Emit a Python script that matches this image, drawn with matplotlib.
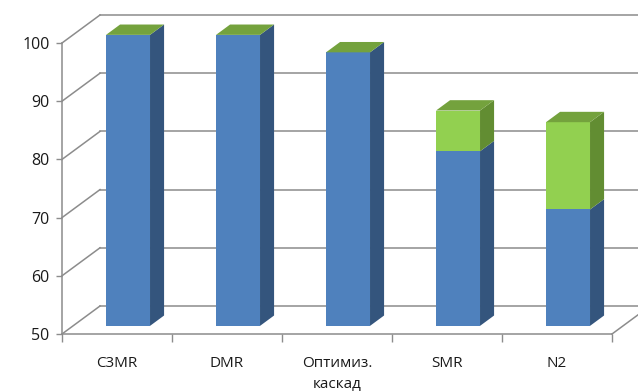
import matplotlib
matplotlib.use("Agg")
import matplotlib.pyplot as plt
from matplotlib.patches import Polygon

categories = ["C3MR", "DMR", "Оптимиз.\nкаскад", "SMR", "N2"]
blue_values = [100, 100, 97, 80, 70]
green_values = [0, 0, 0, 7, 15]
y_ticks = [50, 60, 70, 80, 90, 100]

BLUE_FRONT = "#4F81BD"
BLUE_SIDE = "#34557D"
GREEN_FRONT = "#92D050"
GREEN_SIDE = "#628D32"
GREEN_TOP = "#74A23D"
GRID = "#8C8C8C"
TEXT = "#1A1A1A"

plt.rcParams['font.family'] = ['Open Sans', 'DejaVu Sans']

fig = plt.figure(figsize=(6.38, 3.91), dpi=100)
W, H = 638, 391
ax = fig.add_axes([62 / W, 57 / H, 550 / W, 291 / H])
ax.set_xlim(-0.5, 4.5)
ax.set_ylim(50, 100)

# depth of the 3-D box in data units
DX = 38 / 110.0
DY = 28 / (291 / 50.0)
f0, f1 = 0.29, 0.66
bw = 0.4

# back wall gridlines and left wall diagonals
for t in y_ticks:
    ax.plot([-0.5 + DX, 4.5 + DX], [t + DY, t + DY], color=GRID, lw=1.1,
            clip_on=False, zorder=1)
    ax.plot([-0.5, -0.5 + DX], [t, t + DY], color=GRID, lw=1.1,
            clip_on=False, zorder=1)
# floor right edge
ax.plot([4.5, 4.5 + DX], [50, 50 + DY], color=GRID, lw=1.1, clip_on=False, zorder=1)

xs = list(range(len(categories)))
ox0, oy0 = f0 * DX, f0 * DY
ox1, oy1 = f1 * DX, f1 * DY

for x, b, g in zip(xs, blue_values, green_values):
    left = x - bw / 2 + ox0
    right = x + bw / 2 + ox0
    # blue front
    ax.bar(x + ox0, b - 50, bottom=50 + oy0, width=bw, color=BLUE_FRONT,
           edgecolor="none", zorder=3, clip_on=False)
    # blue side
    ax.add_patch(Polygon([(right, 50 + oy0), (right + ox1 - ox0, 50 + oy1),
                          (right + ox1 - ox0, b + oy1), (right, b + oy0)],
                         closed=True, facecolor=BLUE_SIDE, edgecolor="none",
                         zorder=3, clip_on=False))
    top = b + g
    if g > 0:
        ax.bar(x + ox0, g, bottom=b + oy0, width=bw, color=GREEN_FRONT,
               edgecolor="none", zorder=4, clip_on=False)
        ax.add_patch(Polygon([(right, b + oy0), (right + ox1 - ox0, b + oy1),
                              (right + ox1 - ox0, top + oy1), (right, top + oy0)],
                             closed=True, facecolor=GREEN_SIDE, edgecolor="none",
                             zorder=4, clip_on=False))
    # top face
    ax.add_patch(Polygon([(left, top + oy0), (right, top + oy0),
                          (right + ox1 - ox0, top + oy1), (left + ox1 - ox0, top + oy1)],
                         closed=True, facecolor=GREEN_TOP, edgecolor="none",
                         zorder=5, clip_on=False))

for s in ["top", "right"]:
    ax.spines[s].set_visible(False)
for s in ["left", "bottom"]:
    ax.spines[s].set_color(GRID)
    ax.spines[s].set_linewidth(1.1)

ax.set_yticks(y_ticks)
ax.set_yticklabels([str(t) for t in y_ticks])
ax.tick_params(axis="y", length=4, width=1, color=GRID, pad=5,
               labelsize=11.5, labelcolor=TEXT)

ax.set_xticks([i - 0.5 for i in range(len(categories) + 1)])
ax.set_xticklabels([""] * (len(categories) + 1))
ax.tick_params(axis="x", which="major", length=6, width=1, color=GRID)
ax.set_xticks(xs, minor=True)
ax.set_xticklabels(categories, minor=True, linespacing=1.55)
ax.tick_params(axis="x", which="minor", length=0, pad=16, labelsize=11,
               labelcolor=TEXT)
ax.set_facecolor("none")

fig.savefig("out.png", dpi=100)
